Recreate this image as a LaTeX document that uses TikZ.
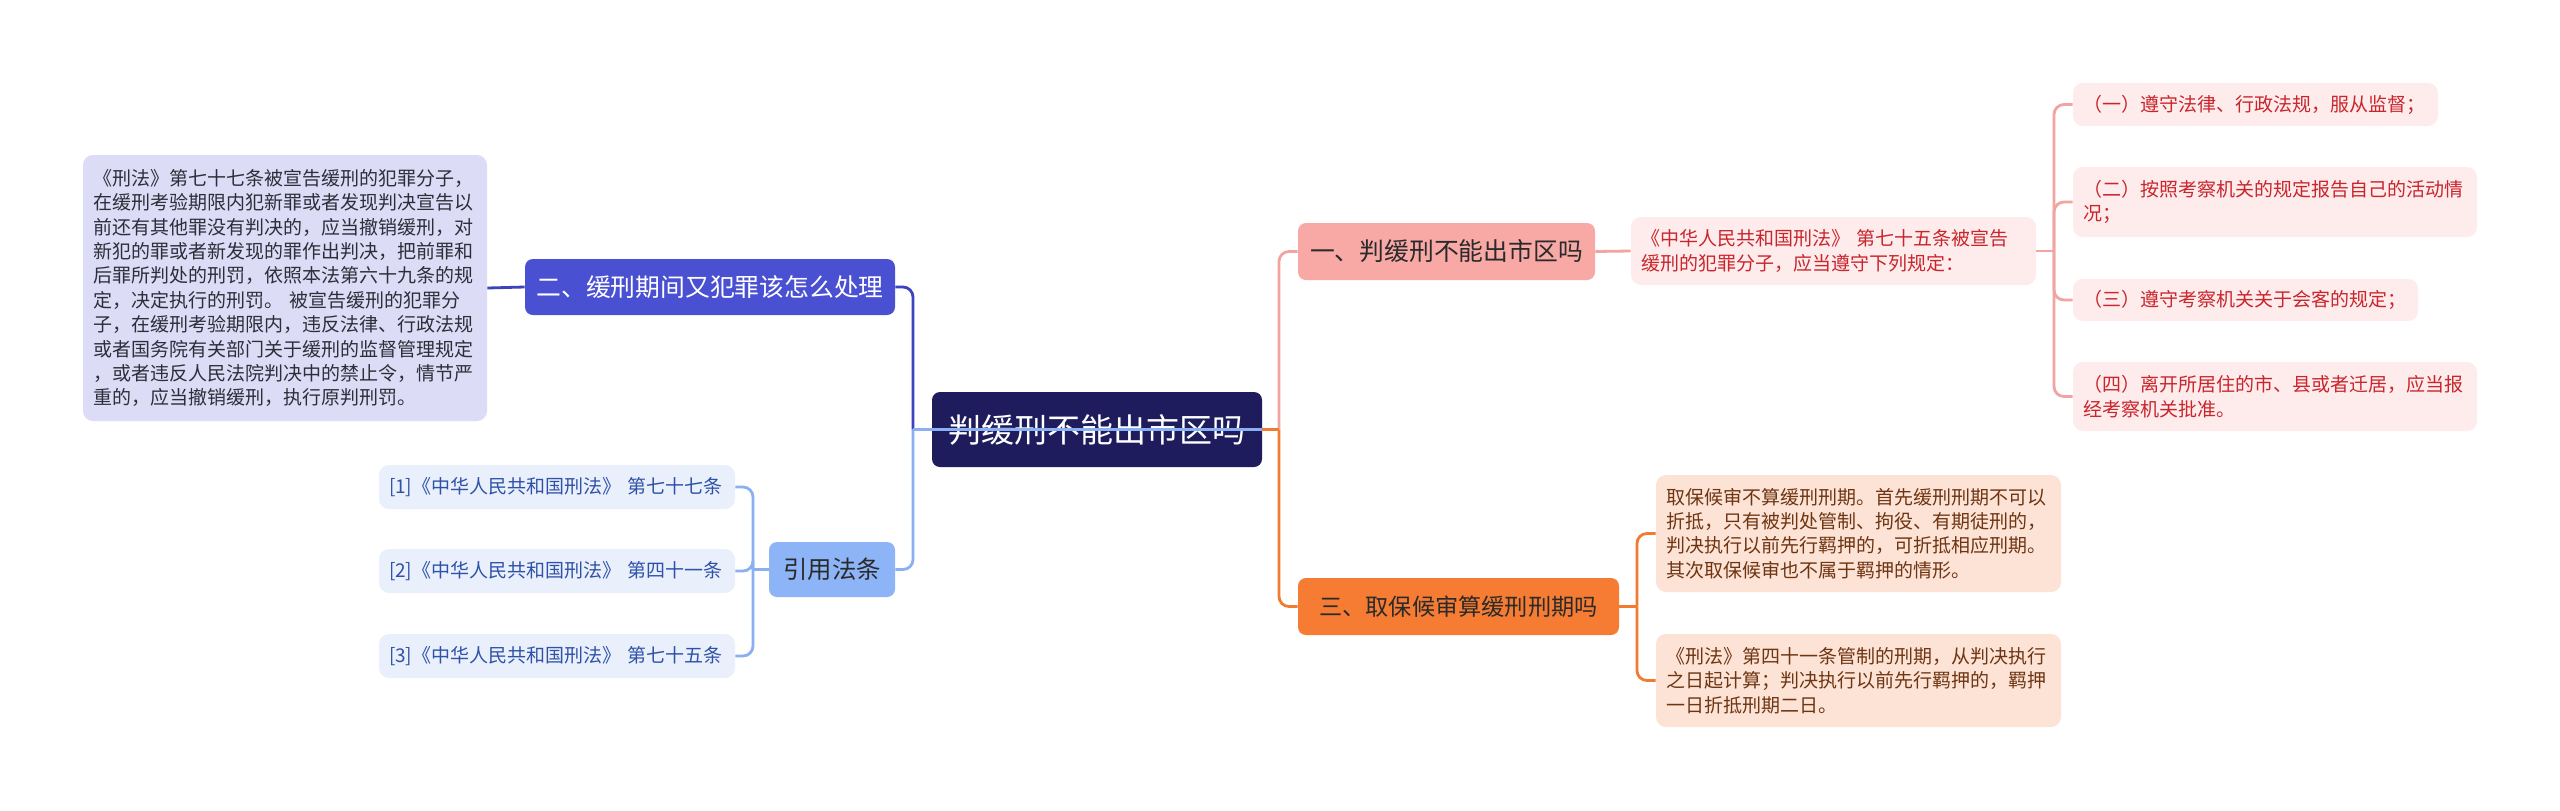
\documentclass[tikz,border=0pt]{standalone}
\usepackage{fontspec}
\newfontfamily\cjk{Noto Sans CJK SC}
\definecolor{cRoot}{HTML}{1E1C5C}
\definecolor{cNtwo}{HTML}{4A50D2}
\definecolor{cLT}{HTML}{DCDCF6}
\definecolor{cLTtext}{HTML}{2E2E3A}
\definecolor{cPurpleLine}{HTML}{3D42BE}
\definecolor{cCite}{HTML}{8DB4F6}
\definecolor{cCiteLine}{HTML}{8AB0F2}
\definecolor{cCiteBox}{HTML}{E9F0FC}
\definecolor{cCiteText}{HTML}{2F52A8}
\definecolor{cNone}{HTML}{F8A9A6}
\definecolor{cPinkLine}{HTML}{F2A4A2}
\definecolor{cRedBox}{HTML}{FDECEB}
\definecolor{cRedText}{HTML}{C9252D}
\definecolor{cNthree}{HTML}{F57C32}
\definecolor{cOrangeLine}{HTML}{F07B31}
\definecolor{cPeach}{HTML}{FDE3D6}
\definecolor{cBrown}{HTML}{6E3512}
\definecolor{cDark}{HTML}{2A2A2A}
\tikzset{
  base/.style={rounded corners=4pt, inner sep=0pt, align=center},
  rootbox/.style={base, fill=cRoot, text=white, font=\cjk\fontsize{16.5}{20}\selectfont},
  lone/.style={base, font=\cjk\fontsize{12.4}{15}\selectfont},
  tbox/.style={rounded corners=5pt, inner xsep=5pt, inner ysep=0pt, align=left,
    font=\cjk\fontsize{9.5}{12.2}\selectfont},
  link/.style={line width=1.4pt},
  rlink/.style={line width=1.4pt, rounded corners=5pt},
}
\begin{document}
\begin{tikzpicture}[x=0.5pt, y=-0.5pt]
\fill[white] (0,0) rectangle (2560,810);
\useasboundingbox (0,0) rectangle (2560,810);

% junction coordinates
\coordinate (lj) at (913,429.5);
\coordinate (rj) at (1279,429.5);
\coordinate (tj) at (2054,251);
\coordinate (oj) at (1637,606.5);
\coordinate (cj) at (753,569.5);

% nodes
\node[rootbox, minimum width=165pt, minimum height=37.5pt] (root) at (1097,429.5) {判缓刑不能出市区吗};

\node[lone, fill=cNtwo, text=white, minimum width=185pt, minimum height=28pt] (n2) at (710,287) {二、缓刑期间又犯罪该怎么处理};
\node[tbox, fill=cLT, text=cLTtext, minimum width=202pt, minimum height=133pt, text width=192pt] (lt) at (285,288) {《刑法》第七十七条被宣告缓刑的犯罪分子，\\在缓刑考验期限内犯新罪或者发现判决宣告以\\前还有其他罪没有判决的，应当撤销缓刑，对\\新犯的罪或者新发现的罪作出判决，把前罪和\\后罪所判处的刑罚，依照本法第六十九条的规\\定，决定执行的刑罚。 被宣告缓刑的犯罪分\\子，在缓刑考验期限内，违反法律、行政法规\\或者国务院有关部门关于缓刑的监督管理规定\\，或者违反人民法院判决中的禁止令，情节严\\重的，应当撤销缓刑，执行原判刑罚。};

\node[lone, fill=cCite, text=cDark, minimum width=63pt, minimum height=27.5pt, font=\cjk\fontsize{12.2}{15}\selectfont] (cite) at (832,569.5) {引用法条};
\node[tbox, fill=cCiteBox, text=cCiteText, minimum width=178pt, minimum height=22pt, text width=168pt] (c1) at (557,487) {[1]《中华人民共和国刑法》 第七十七条};
\node[tbox, fill=cCiteBox, text=cCiteText, minimum width=178pt, minimum height=22pt, text width=168pt] (c2) at (557,571) {[2]《中华人民共和国刑法》 第四十一条};
\node[tbox, fill=cCiteBox, text=cCiteText, minimum width=178pt, minimum height=22pt, text width=168pt] (c3) at (557,656) {[3]《中华人民共和国刑法》 第七十五条};

\node[lone, fill=cNone, text=cDark, minimum width=148.5pt, minimum height=28.5pt] (n1) at (1446.5,251.5) {一、判缓刑不能出市区吗};
\node[tbox, fill=cRedBox, text=cRedText, minimum width=202.5pt, minimum height=34pt, text width=192.5pt] (rt) at (1833.5,251) {《中华人民共和国刑法》 第七十五条被宣告\\缓刑的犯罪分子，应当遵守下列规定：};
\node[tbox, fill=cRedBox, text=cRedText, minimum width=182.5pt, minimum height=21.5pt, text width=172.5pt] (i1) at (2255.5,104.5) {（一）遵守法律、行政法规，服从监督；};
\node[tbox, fill=cRedBox, text=cRedText, minimum width=202pt, minimum height=35pt, text width=192pt] (i2) at (2275,202) {（二）按照考察机关的规定报告自己的活动情\\况；};
\node[tbox, fill=cRedBox, text=cRedText, minimum width=172.5pt, minimum height=21pt, text width=162.5pt] (i3) at (2245.5,300) {（三）遵守考察机关关于会客的规定；};
\node[tbox, fill=cRedBox, text=cRedText, minimum width=202pt, minimum height=34.5pt, text width=192pt] (i4) at (2275,396.5) {（四）离开所居住的市、县或者迁居，应当报\\经考察机关批准。};

\node[lone, fill=cNthree, text=cDark, minimum width=160.5pt, minimum height=28.5pt, font=\cjk\fontsize{11.6}{15}\selectfont] (n3) at (1458.5,606.5) {三、取保候审算缓刑刑期吗};
\node[tbox, fill=cPeach, text=cBrown, minimum width=202.5pt, minimum height=58.5pt, text width=192.5pt] (p1) at (1858.5,533.5) {取保候审不算缓刑刑期。首先缓刑刑期不可以\\折抵，只有被判处管制、拘役、有期徒刑的，\\判决执行以前先行羁押的，可折抵相应刑期。\\其次取保候审也不属于羁押的情形。};
\node[tbox, fill=cPeach, text=cBrown, minimum width=202.5pt, minimum height=46.5pt, text width=192.5pt] (p2) at (1858.5,680.5) {《刑法》第四十一条管制的刑期，从判决执行\\之日起计算；判决执行以前先行羁押的，羁押\\一日折抵刑期二日。};

% left connectors
\draw[rlink, cPurpleLine] (lj) |- (n2.east);
\draw[link, cPurpleLine] (n2.west) -- (lt.east);
\draw[link, cCiteLine] (root.east) -- (lj);
\draw[rlink, cCiteLine] (lj) |- (cite.east);
\draw[link, cCiteLine] (cite.west) -- (cj);
\draw[rlink, cCiteLine] (cj) |- (c1.east);
\draw[rlink, cCiteLine] (cj) |- (c2.east);
\draw[rlink, cCiteLine] (cj) |- (c3.east);

% right connectors
\draw[rlink, cPinkLine] (rj) |- (n1.west);
\draw[link, cOrangeLine] (root.east) -- (rj);
\draw[rlink, cOrangeLine] (rj) |- (n3.west);
\draw[link, cPinkLine] (n1.east) -- (rt.west);
\draw[link, cPinkLine] (rt.east) -- (tj);
\draw[rlink, cPinkLine] (tj) |- (i1.west);
\draw[rlink, cPinkLine] (tj) |- (i2.west);
\draw[rlink, cPinkLine] (tj) |- (i3.west);
\draw[rlink, cPinkLine] (tj) |- (i4.west);
\draw[link, cOrangeLine] (n3.east) -- (oj);
\draw[rlink, cOrangeLine] (oj) |- (p1.west);
\draw[rlink, cOrangeLine] (oj) |- (p2.west);
\end{tikzpicture}
\end{document}
